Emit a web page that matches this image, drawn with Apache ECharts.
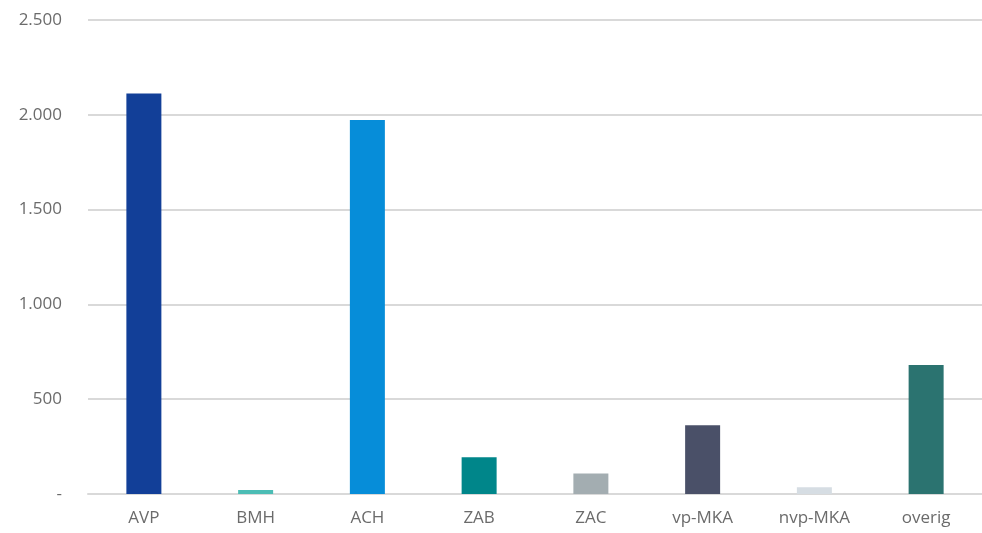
<!DOCTYPE html>
<html>
<head>
<meta charset="utf-8">
<script src="https://cdn.jsdelivr.net/npm/echarts@6/dist/echarts.min.js"></script>
<style>
html,body{margin:0;padding:0;background:#fff;}
#chart{width:982px;height:533px;}
</style>
</head>
<body>
<div id="chart"></div>
<script>
const categories = ["AVP", "BMH", "ACH", "ZAB", "ZAC", "vp-MKA", "nvp-MKA", "overig"];
const values = [2112, 21, 1972, 194, 108, 362, 35, 680];
const barColors = ["#123f98", "#4cbdb5", "#068dd9", "#00868a", "#a3adb1", "#4a5068", "#d6dde3", "#2b7370"];
const yTicks = [0, 500, 1000, 1500, 2000, 2500];

function fmt(v) {
  if (v === 0) return "-";
  return String(v).replace(/\B(?=(\d{3})+(?!\d))/g, ".");
}

const chart = echarts.init(document.getElementById("chart"), null, {renderer: "canvas"});
chart.setOption({
  animation: false,
  backgroundColor: "#fff",
  grid: {left: 88, top: 20, width: 900, bottom: 39, containLabel: false},
  xAxis: {
    type: "category",
    data: categories,
    axisLine: {show: true, lineStyle: {color: "#d9d9d9", width: 2}},
    axisTick: {show: false},
    axisLabel: {color: "#6b6b6b", fontFamily: "Open Sans", fontSize: 17, margin: 16}
  },
  yAxis: {
    type: "value",
    min: yTicks[0],
    max: yTicks[yTicks.length - 1],
    interval: 500,
    axisLine: {show: false},
    axisTick: {show: false},
    splitLine: {lineStyle: {color: "#d9d9d9", width: 2}},
    axisLabel: {color: "#6b6b6b", fontFamily: "Open Sans", fontSize: 17, margin: 26, formatter: fmt}
  },
  series: [{
    type: "bar",
    data: values.map((v, i) => ({value: v, itemStyle: {color: barColors[i]}})),
    barWidth: 35
  }]
});
</script>
</body>
</html>
